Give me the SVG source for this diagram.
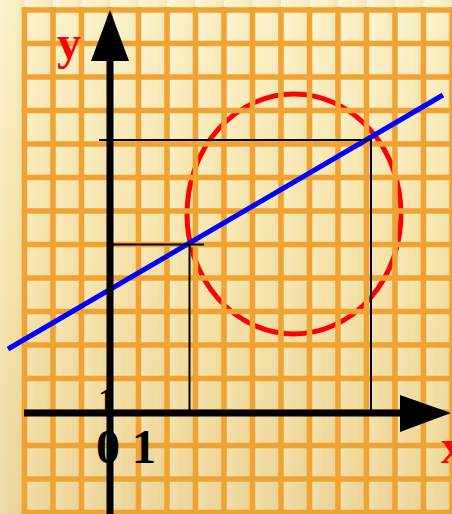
<svg xmlns="http://www.w3.org/2000/svg" width="452" height="514" viewBox="0 0 452 514">
<defs>
<linearGradient id="bgv" x1="0" y1="0" x2="0" y2="1">
<stop offset="0" stop-color="#FBF0C6"/>
<stop offset="0.5" stop-color="#F6E3A8"/>
<stop offset="1" stop-color="#EDD699"/>
</linearGradient>
<linearGradient id="strip" x1="0" y1="0" x2="1" y2="0">
<stop offset="0" stop-color="#FFFFFF" stop-opacity="0.25"/>
<stop offset="0.5" stop-color="#FFFFFF" stop-opacity="0"/>
<stop offset="1" stop-color="#B08A30" stop-opacity="0.12"/>
</linearGradient>
<pattern id="stripes" x="24.5" y="0" width="28.5" height="514" patternUnits="userSpaceOnUse">
<rect x="0" y="0" width="28.5" height="514" fill="url(#strip)"/>
</pattern>
<style>
.grid{fill:none;stroke:#F0A232;stroke-width:5.5}
.thin{fill:none;stroke:#000;stroke-width:2}
.axis{fill:none;stroke:#000;stroke-width:7}
.lbl{font-family:"Liberation Serif",serif;font-weight:bold;font-size:48px}
</style>
</defs>
<g id="background">
<rect x="0" y="0" width="452" height="514" fill="url(#bgv)"/>
<rect x="0" y="0" width="452" height="514" fill="url(#stripes)"/>
</g>
<g id="circle">
<ellipse cx="294" cy="214" rx="107" ry="120" fill="none" stroke="#FF0000" stroke-width="5"/>
</g>
<g id="grid">
<path class="grid" d="M24.5 7V514M53 7V514M81.5 7V514M110 7V514M138.5 7V514M167 7V514M195.5 7V514M224 7V514M252.5 7V514M281 7V514M309.5 7V514M338 7V514M366.5 7V514M395 7V514M423.5 7V514M452 7V514"/>
<path class="grid" d="M21.75 10H452M21.75 43.5H452M21.75 77H452M21.75 110.5H452M21.75 144H452M21.75 177.5H452M21.75 211H452M21.75 244.5H452M21.75 278H452M21.75 311.5H452M21.75 345H452M21.75 378.5H452M21.75 412H452M21.75 445.5H452M21.75 479H452M21.75 512.5H452"/>
</g>
<g id="ytick-label">
<text class="lbl" x="98" y="413" style="font-size:36px">1</text>
</g>
<g id="connectors">
<line id="line" x1="8" y1="349" x2="443" y2="95" stroke="#0000FF" stroke-width="5"/>
<path class="thin" d="M99 140H371V413"/>
<path class="thin" d="M108 244.5H204"/>
<path class="thin" d="M189.5 244.5V413"/>
</g>
<g id="axes">
<line class="axis" x1="110" y1="55" x2="110" y2="514"/>
<polygon points="110,10 91,61 129,61" fill="#000"/>
<line class="axis" x1="24" y1="413" x2="405" y2="413"/>
<polygon points="451,413 400,395 400,432" fill="#000"/>
</g>
<g id="labels">
<text class="lbl" x="57" y="59" fill="#FF0000">y</text>
<text class="lbl" x="441" y="463" fill="#FF0000">x</text>
<text class="lbl" x="96" y="463" fill="#000">0 1</text>
</g>
</svg>
